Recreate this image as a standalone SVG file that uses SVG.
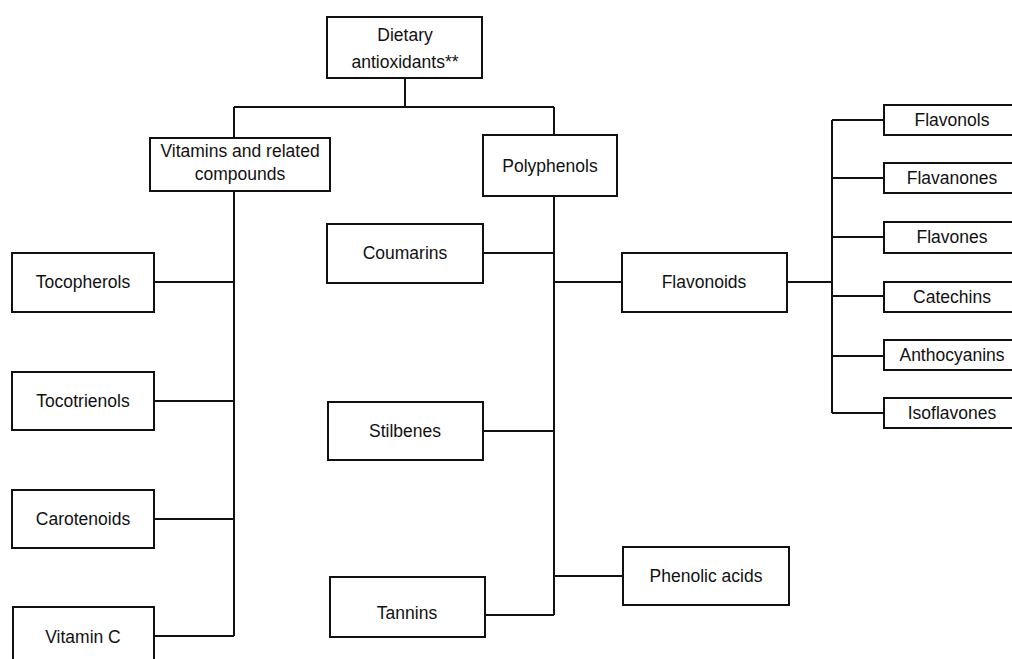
<svg xmlns="http://www.w3.org/2000/svg" width="1012" height="659" viewBox="0 0 1012 659">
<style>
.box{fill:#fff;stroke:#111;stroke-width:2}
.ln{fill:none;stroke:#111;stroke-width:2}
text{font-family:"Liberation Sans",Arial,sans-serif;font-size:17.5px;fill:#111;text-anchor:middle}
</style>
<rect width="1012" height="659" fill="#fff"/>
<g id="connectors">
<path class="ln" d="M405 78V107M234 107H554M234 107V138M554 107V135"/>
<path class="ln" d="M234 191V636M154 282H234M154 401H234M154 519H234M154 636H234"/>
<path class="ln" d="M554 196V615M483 253H554M483 431H554M485 615H554M554 282H622M554 576H623"/>
<path class="ln" d="M787 282H832M832 120V413M832 120H884M832 178H884M832 237H884M832 296H884M832 356H884M832 413H884"/>
</g>
<g id="dietary"><rect class="box" x="327" y="17" width="155" height="61"/><text x="405" y="41">Dietary</text><text x="405" y="68">antioxidants**</text></g>
<g id="vitamins"><rect class="box" x="150" y="138" width="180" height="53"/><text x="240" y="157">Vitamins and related</text><text x="240" y="180">compounds</text></g>
<g id="polyphenols"><rect class="box" x="483" y="135" width="134" height="61"/><text x="550" y="172">Polyphenols</text></g>
<g id="tocopherols"><rect class="box" x="12" y="253" width="142" height="59"/><text x="83" y="288">Tocopherols</text></g>
<g id="tocotrienols"><rect class="box" x="12" y="372" width="142" height="58"/><text x="83" y="407">Tocotrienols</text></g>
<g id="carotenoids"><rect class="box" x="12" y="490" width="142" height="58"/><text x="83" y="525">Carotenoids</text></g>
<g id="vitaminc"><rect class="box" x="13" y="607" width="141" height="60"/><text x="83" y="643">Vitamin C</text></g>
<g id="coumarins"><rect class="box" x="327" y="224" width="156" height="59"/><text x="405" y="259">Coumarins</text></g>
<g id="stilbenes"><rect class="box" x="328" y="402" width="155" height="58"/><text x="405" y="437">Stilbenes</text></g>
<g id="tannins"><rect class="box" x="330" y="577" width="155" height="60"/><text x="407" y="619">Tannins</text></g>
<g id="flavonoids"><rect class="box" x="622" y="253" width="165" height="59"/><text x="704" y="288">Flavonoids</text></g>
<g id="phenolic"><rect class="box" x="623" y="547" width="166" height="58"/><text x="706" y="582">Phenolic acids</text></g>
<g id="flavonols"><rect class="box" x="884" y="105" width="140" height="30"/><text x="952" y="126">Flavonols</text></g>
<g id="flavanones"><rect class="box" x="884" y="163" width="140" height="30"/><text x="952" y="184">Flavanones</text></g>
<g id="flavones"><rect class="box" x="884" y="222" width="140" height="31"/><text x="952" y="243">Flavones</text></g>
<g id="catechins"><rect class="box" x="884" y="282" width="140" height="30"/><text x="952" y="303">Catechins</text></g>
<g id="anthocyanins"><rect class="box" x="884" y="340" width="140" height="30"/><text x="952" y="361">Anthocyanins</text></g>
<g id="isoflavones"><rect class="box" x="884" y="398" width="140" height="30"/><text x="952" y="419">Isoflavones</text></g>
</svg>
